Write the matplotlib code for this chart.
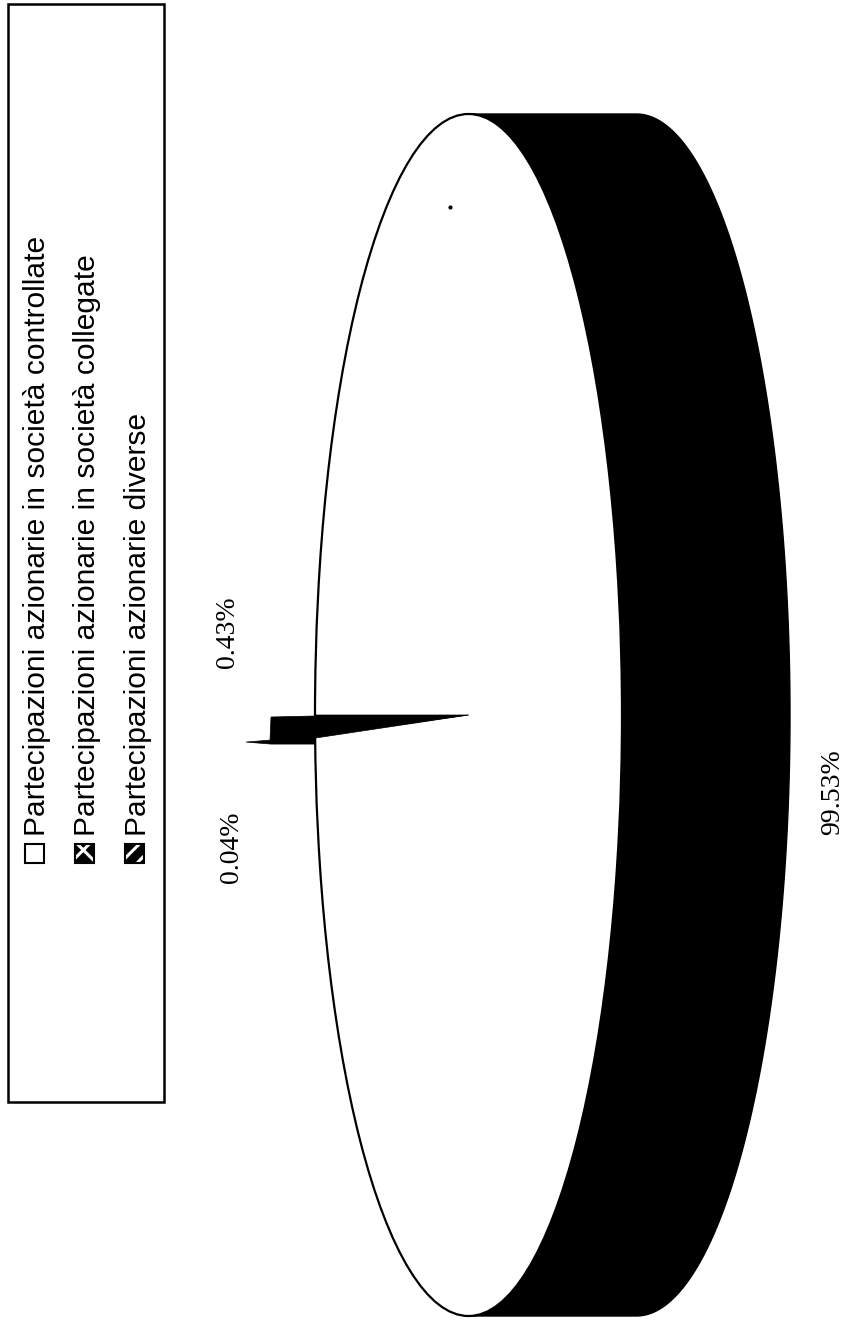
import numpy as np
import matplotlib
matplotlib.use("Agg")
import matplotlib.pyplot as plt
from matplotlib.patches import Wedge, Ellipse, Rectangle, Polygon
from matplotlib.transforms import Affine2D

labels = ["Partecipazioni azionarie in società controllate",
          "Partecipazioni azionarie in società collegate",
          "Partecipazioni azionarie diverse"]
values = [99.53, 0.43, 0.04]
value_labels = ["99.53%", "0.43%", "0.04%"]

plt.rcParams["hatch.linewidth"] = 2.2

W, H = 850, 1321
fig = plt.figure(figsize=(W/100, H/100), dpi=100)
ax = fig.add_axes([0, 0, 1, 1])
ax.set_xlim(0, W); ax.set_ylim(H, 0); ax.axis("off")

cx, cy, rx, ry, depth = 468.5, 715, 153.5, 601, 168
disc = Affine2D().scale(rx, ry).translate(cx, cy) + ax.transData

# side band
t = np.linspace(-np.pi/2, np.pi/2, 200)
ex, ey = rx*np.cos(t), ry*np.sin(t)
pts = np.r_[np.c_[cx+ex+depth, cy+ey], np.c_[cx+ex[::-1], cy+ey[::-1]]]
ax.add_patch(Polygon(pts, closed=True, fc="black", ec="black", lw=1))

# top face
ax.add_patch(Ellipse((0, 0), 2, 2, transform=disc, fc="white", ec="black", lw=1.6))
ax.plot([450], [207], "o", ms=2, color="black")

# small slices: angles come from the values (drawn 30% wider, as in the source's perspective)
a0 = 180.0
ends = []
for v in values[1:]:
    a1 = a0 - v/100*360*1.3
    ax.add_patch(Wedge((0, 0), 1, a1, a0, transform=disc, fc="black", ec="black", lw=0.5))
    ends.append(cy + ry*np.sin(np.radians(a1)))
    a0 = a1

# side of the small slices, seen beyond the rim
rim = cx - rx
ax.add_patch(Polygon([(rim, cy+1), (rim-44, cy+2), (rim-45, ends[0]+4), (rim-69, ends[1]+4),
                      (rim-44, ends[1]+6), (rim, ends[1]+6)],
                     closed=True, fc="black", ec="black", lw=0.5))

tkw = dict(rotation=90, ha="center", va="center", color="black", family="Liberation Serif", fontsize=20)
ax.text(228, 632, value_labels[1], **tkw)
ax.text(232, 847, value_labels[2], **tkw)
ax.text(833, 792, value_labels[0], **tkw)

# legend
ax.add_patch(Rectangle((8.5, 3.5), 155.5, 1098.5, fc="white", ec="black", lw=1.8))
for x, mx, lab, hatch in zip([37.5, 87.5, 138], [34.5, 85, 135], labels, [None, "x", "//"]):
    if hatch:
        ax.add_patch(Rectangle((mx-9.5, 844), 19, 19, fc="black", ec="white", lw=0, hatch=hatch))
        ax.add_patch(Rectangle((mx-9.5, 844), 19, 19, fc="none", ec="black", lw=1.5))
    else:
        ax.add_patch(Rectangle((mx-9.5, 844), 19, 19, fc="white", ec="black", lw=1.5))
    ax.text(x, 836, lab, family="Liberation Sans", fontsize=21.6, rotation=90,
            ha="center", va="bottom", color="black")

fig.savefig("out.png", dpi=100)
